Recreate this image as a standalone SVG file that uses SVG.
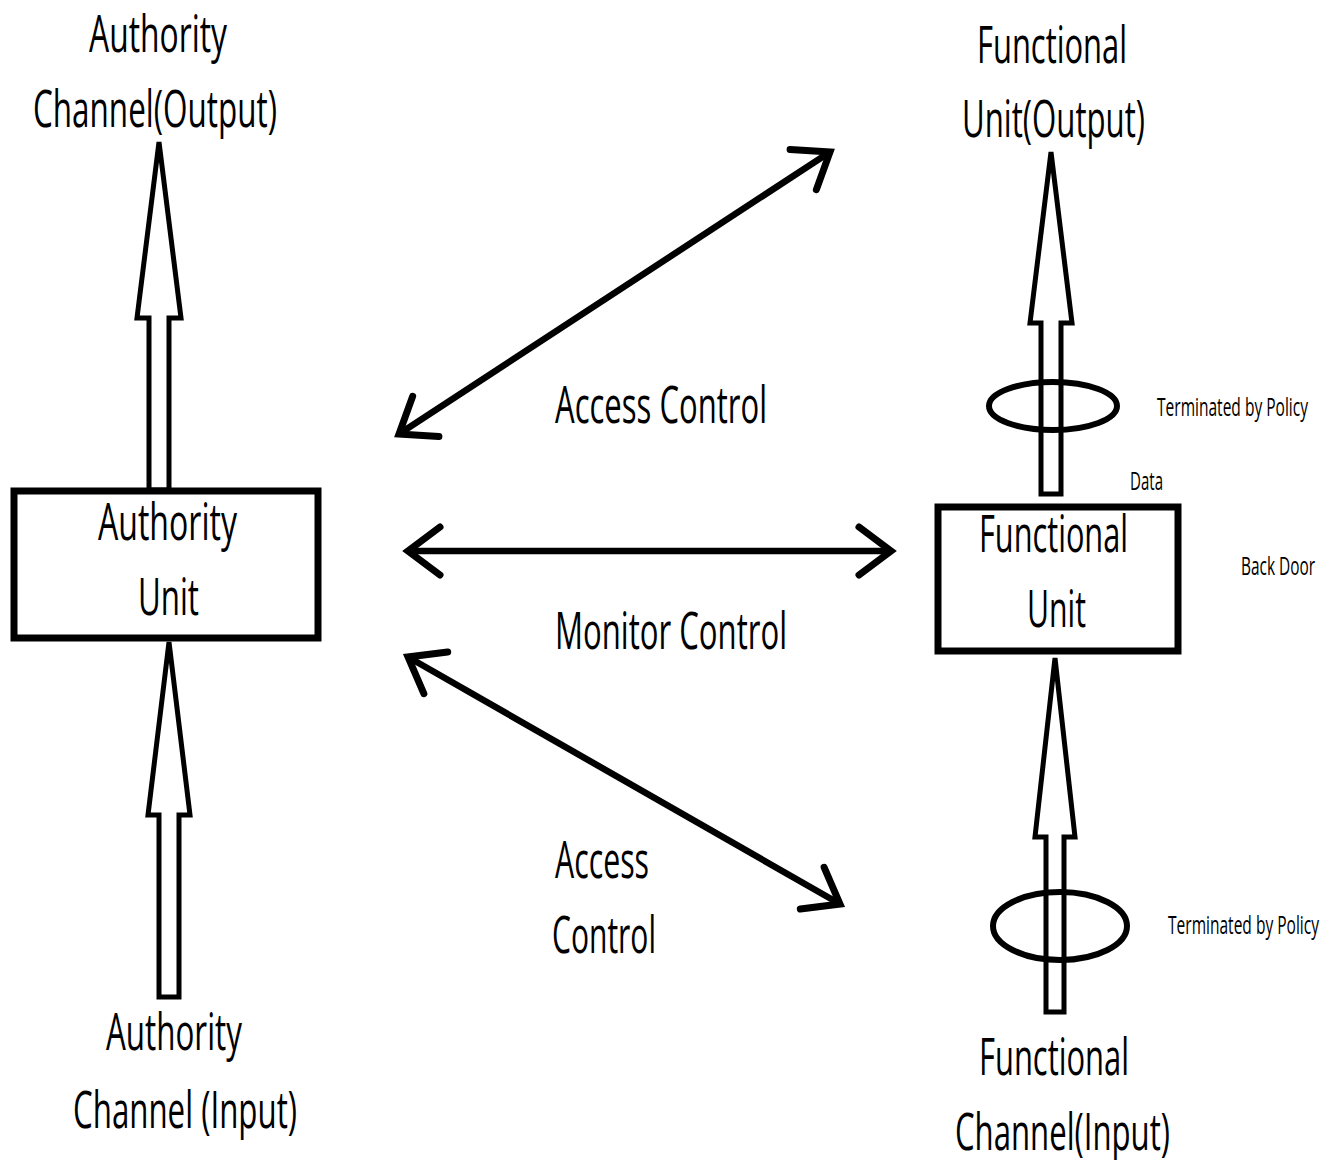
<svg xmlns="http://www.w3.org/2000/svg" width="1330" height="1160" viewBox="0 0 1330 1160">
<style>
text{font-family:"Open Sans","Liberation Sans",sans-serif;fill:#000}
.big{font-size:52px}
.small{font-size:26px}
.box{fill:#fff;stroke:#000;stroke-width:7}
.block{fill:#fff;stroke:#000;stroke-width:5;stroke-linejoin:miter}
.ring{fill:none;stroke:#000;stroke-width:6}
.link{fill:none;stroke:#000;stroke-width:6.5;stroke-linecap:butt}
</style>
<defs>
<marker id="vhead" markerUnits="userSpaceOnUse" orient="auto-start-reverse" refX="0" refY="0" markerWidth="80" markerHeight="80" overflow="visible">
<path d="M-32,-24 L0,0 L-32,24" fill="none" stroke="#000" stroke-width="7" stroke-linecap="round" stroke-linejoin="miter"/>
</marker>
</defs>
<rect width="1330" height="1160" fill="#fff"/>

<g id="connectors">
<polygon class="block" points="159,142 181,318 169,318 169,490 149,490 149,318 137,318"/>
<polygon class="block" points="169,642 190,815 179,815 179,997 159,997 159,815 148,815"/>
<polygon class="block" points="1051,152 1072,323 1061,323 1061,494 1041,494 1041,323 1030,323"/>
<polygon class="block" points="1055,658 1075,837 1064,837 1064,1012 1046,1012 1046,837 1035,837"/>
<line class="link" x1="399" y1="434" x2="830" y2="152" marker-start="url(#vhead)" marker-end="url(#vhead)"/>
<line class="link" x1="408" y1="551" x2="891" y2="551" marker-start="url(#vhead)" marker-end="url(#vhead)"/>
<line class="link" x1="408" y1="657" x2="840" y2="904" marker-start="url(#vhead)" marker-end="url(#vhead)"/>
</g>

<g id="policy-ring-top"><ellipse class="ring" cx="1053" cy="406" rx="64" ry="24"/></g>
<g id="policy-ring-bottom"><ellipse class="ring" cx="1060" cy="926" rx="67" ry="34"/></g>

<g id="authority-unit">
<rect class="box" x="14" y="491" width="304" height="147"/>
<text class="big" x="98" y="540" textLength="139" lengthAdjust="spacingAndGlyphs">Authority</text>
<text class="big" x="138" y="615" textLength="61" lengthAdjust="spacingAndGlyphs">Unit</text>
</g>

<g id="functional-unit">
<rect class="box" x="938" y="507" width="240" height="144"/>
<text class="big" x="979" y="552" textLength="149" lengthAdjust="spacingAndGlyphs">Functional</text>
<text class="big" x="1027" y="627" textLength="59" lengthAdjust="spacingAndGlyphs">Unit</text>
</g>

<g id="authority-output">
<text class="big" x="89" y="52" textLength="138" lengthAdjust="spacingAndGlyphs">Authority</text>
<text class="big" x="33" y="127" textLength="244" lengthAdjust="spacingAndGlyphs">Channel(Output)</text>
</g>

<g id="authority-input">
<text class="big" x="106" y="1050" textLength="136" lengthAdjust="spacingAndGlyphs">Authority</text>
<text class="big" x="73" y="1128" textLength="224" lengthAdjust="spacingAndGlyphs">Channel (Input)</text>
</g>

<g id="functional-output">
<text class="big" x="977" y="63" textLength="150" lengthAdjust="spacingAndGlyphs">Functional</text>
<text class="big" x="962" y="137" textLength="183" lengthAdjust="spacingAndGlyphs">Unit(Output)</text>
</g>

<g id="functional-input">
<text class="big" x="979" y="1075" textLength="150" lengthAdjust="spacingAndGlyphs">Functional</text>
<text class="big" x="955" y="1150" textLength="215" lengthAdjust="spacingAndGlyphs">Channel(Input)</text>
</g>

<g id="labels">
<text class="big" x="555" y="423" textLength="212" lengthAdjust="spacingAndGlyphs">Access Control</text>
<text class="big" x="555" y="649" textLength="232" lengthAdjust="spacingAndGlyphs">Monitor Control</text>
<text class="big" x="555" y="878" textLength="94" lengthAdjust="spacingAndGlyphs">Access</text>
<text class="big" x="552" y="953" textLength="104" lengthAdjust="spacingAndGlyphs">Control</text>
<text class="small" x="1157" y="416" textLength="151" lengthAdjust="spacingAndGlyphs">Terminated by Policy</text>
<text class="small" x="1130" y="490" textLength="33" lengthAdjust="spacingAndGlyphs">Data</text>
<text class="small" x="1241" y="575" textLength="74" lengthAdjust="spacingAndGlyphs">Back Door</text>
<text class="small" x="1168" y="934" textLength="151" lengthAdjust="spacingAndGlyphs">Terminated by Policy</text>
</g>
</svg>
